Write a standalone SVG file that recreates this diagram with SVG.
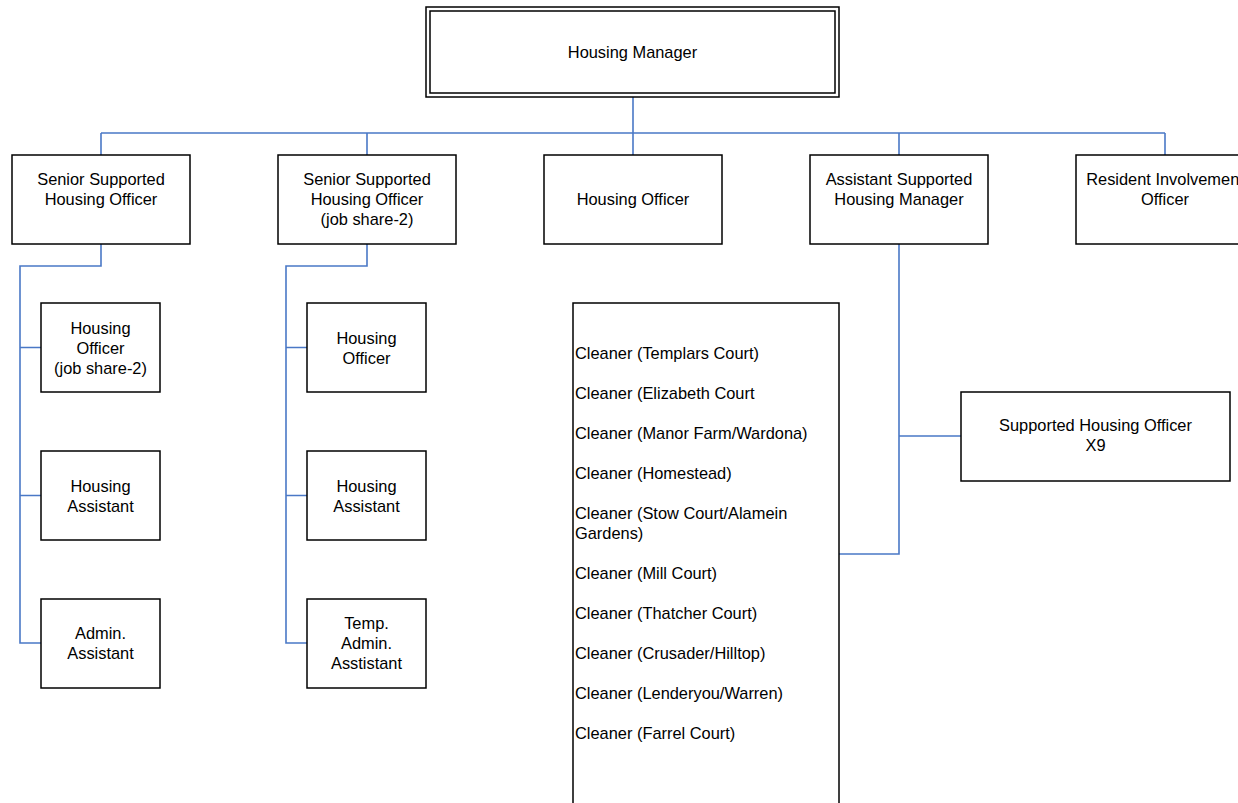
<svg xmlns="http://www.w3.org/2000/svg" width="1238" height="803" viewBox="0 0 1238 803">
<style>
.box{fill:#fff;stroke:#000;stroke-width:1.5}
.t{font-family:"Liberation Sans",Arial,sans-serif;font-size:16.4px;fill:#000;text-anchor:middle}
.tl{font-family:"Liberation Sans",Arial,sans-serif;font-size:16.4px;fill:#000}
.c{fill:none;stroke:#4a78c6;stroke-width:1.6}
</style>
<rect width="1238" height="803" fill="#fff"/>
<g id="connectors">
<path class="c" d="M633 97V155M101 133H1165M101 133V155M367 133V155M899 133V155M1165 133V155"/>
<path class="c" d="M101 244V266H20V643H41M20 347.5H41M20 495.5H41"/>
<path class="c" d="M367 244V266H286V643H307M286 347.5H307M286 495.5H307"/>
<path class="c" d="M899 244V554H839M899 436H961"/>
</g>
<g id="housing-manager">
<rect class="box" x="426" y="7" width="413" height="90"/>
<rect class="box" x="430" y="11" width="405" height="82"/>
<text class="t" x="632.5" y="58">Housing Manager</text>
</g>
<g id="senior-sho">
<rect class="box" x="12" y="155" width="178" height="89"/>
<text class="t" x="101" y="185">Senior Supported</text>
<text class="t" x="101" y="205">Housing Officer</text>
</g>
<g id="senior-sho-js">
<rect class="box" x="278" y="155" width="178" height="89"/>
<text class="t" x="367" y="185">Senior Supported</text>
<text class="t" x="367" y="205">Housing Officer</text>
<text class="t" x="367" y="225">(job share-2)</text>
</g>
<g id="housing-officer-top">
<rect class="box" x="544" y="155" width="178" height="89"/>
<text class="t" x="633" y="205">Housing Officer</text>
</g>
<g id="assistant-shm">
<rect class="box" x="810" y="155" width="178" height="89"/>
<text class="t" x="899" y="185">Assistant Supported</text>
<text class="t" x="899" y="205">Housing Manager</text>
</g>
<g id="resident-involvement">
<rect class="box" x="1076" y="155" width="178" height="89"/>
<text class="t" x="1165" y="185">Resident Involvement</text>
<text class="t" x="1165" y="205">Officer</text>
</g>
<g id="a-housing-officer">
<rect class="box" x="41" y="303" width="119" height="89"/>
<text class="t" x="100.5" y="333.5">Housing</text>
<text class="t" x="100.5" y="353.5">Officer</text>
<text class="t" x="100.5" y="373.5">(job share-2)</text>
</g>
<g id="a-housing-assistant">
<rect class="box" x="41" y="451" width="119" height="89"/>
<text class="t" x="100.5" y="491.5">Housing</text>
<text class="t" x="100.5" y="511.5">Assistant</text>
</g>
<g id="a-admin-assistant">
<rect class="box" x="41" y="599" width="119" height="89"/>
<text class="t" x="100.5" y="639">Admin.</text>
<text class="t" x="100.5" y="659">Assistant</text>
</g>
<g id="b-housing-officer">
<rect class="box" x="307" y="303" width="119" height="89"/>
<text class="t" x="366.5" y="343.5">Housing</text>
<text class="t" x="366.5" y="363.5">Officer</text>
</g>
<g id="b-housing-assistant">
<rect class="box" x="307" y="451" width="119" height="89"/>
<text class="t" x="366.5" y="491.5">Housing</text>
<text class="t" x="366.5" y="511.5">Assistant</text>
</g>
<g id="b-temp-admin">
<rect class="box" x="307" y="599" width="119" height="89"/>
<text class="t" x="366.5" y="629">Temp.</text>
<text class="t" x="366.5" y="649">Admin.</text>
<text class="t" x="366.5" y="669">Asstistant</text>
</g>
<g id="cleaners">
<rect class="box" x="573" y="303" width="266" height="520"/>
<text class="tl" x="575" y="358.5">Cleaner (Templars Court)</text>
<text class="tl" x="575" y="398.5">Cleaner (Elizabeth Court</text>
<text class="tl" x="575" y="438.5">Cleaner (Manor Farm/Wardona)</text>
<text class="tl" x="575" y="478.5">Cleaner (Homestead)</text>
<text class="tl" x="575" y="518.5">Cleaner (Stow Court/Alamein</text>
<text class="tl" x="575" y="538.5">Gardens)</text>
<text class="tl" x="575" y="578.5">Cleaner (Mill Court)</text>
<text class="tl" x="575" y="619">Cleaner (Thatcher Court)</text>
<text class="tl" x="575" y="659">Cleaner (Crusader/Hilltop)</text>
<text class="tl" x="575" y="699">Cleaner (Lenderyou/Warren)</text>
<text class="tl" x="575" y="739">Cleaner (Farrel Court)</text>
</g>
<g id="supported-housing-officer">
<rect class="box" x="961" y="392" width="269" height="89"/>
<text class="t" x="1095.5" y="431">Supported Housing Officer</text>
<text class="t" x="1095.5" y="451">X9</text>
</g>
</svg>
